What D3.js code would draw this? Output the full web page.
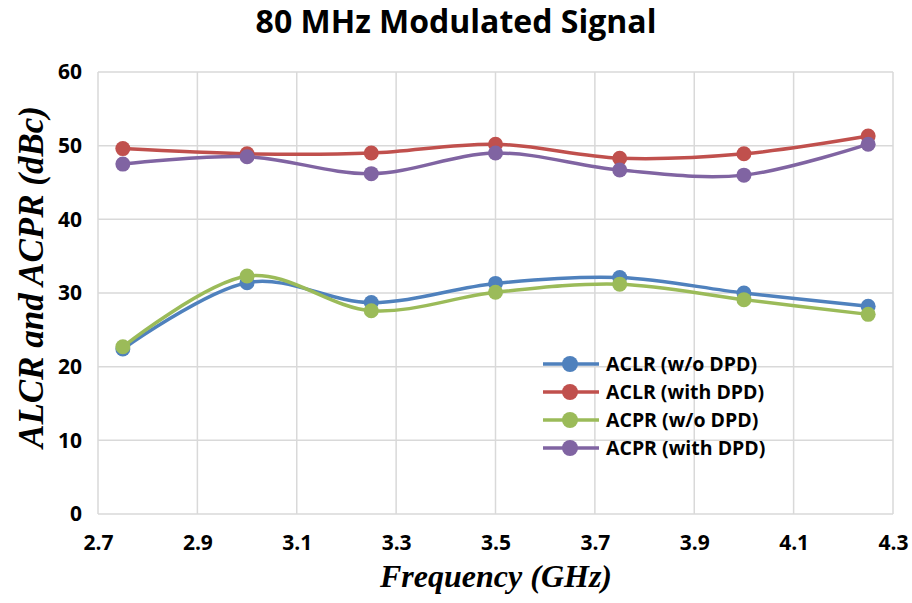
<!DOCTYPE html>
<html>
<head>
<meta charset="utf-8">
<script src="https://cdn.jsdelivr.net/npm/d3@7"></script>
<style>
  body { margin: 0; background: #fff; }
  svg { display: block; }
</style>
</head>
<body>
<svg id="chart" width="912" height="603"></svg>
<script>
(function() {

    // frequency points (GHz)
    var freqs = [2.75, 3.0, 3.25, 3.5, 3.75, 4.0, 4.25];
    var aclrNoDpd = [22.4, 31.4, 28.7, 31.3, 32.1, 30.0, 28.2];
    var aclrDpd = [49.6, 48.9, 49.0, 50.2, 48.3, 48.9, 51.3];
    var acprNoDpd = [22.7, 32.3, 27.6, 30.1, 31.2, 29.1, 27.1];
    var acprDpd = [47.5, 48.5, 46.2, 49.0, 46.7, 46.0, 50.2];
    var seriesNames = ["ACLR (w/o DPD)", "ACLR (with DPD)", "ACPR (w/o DPD)", "ACPR (with DPD)"];
    var xTicks = [2.7, 2.9, 3.1, 3.3, 3.5, 3.7, 3.9, 4.1, 4.3];
    var yTicks = [0, 10, 20, 30, 40, 50, 60];

    var colors = ["#4f81bd", "#c0504d", "#9bbb59", "#8064a2"];
    var allValues = [aclrNoDpd, aclrDpd, acprNoDpd, acprDpd];

    var svg = d3.select("#chart"),
        left = 98, right = 893, top = 72, bottom = 514;

    var x = d3.scaleLinear().domain([2.7, 4.3]).range([left, right]),
        y = d3.scaleLinear().domain([0, 60]).range([bottom, top]);

    // title
    svg.append("text")
        .attr("x", 456).attr("y", 33)
        .attr("text-anchor", "middle")
        .style("font", "bold 32px 'Open Sans', sans-serif")
        .text("80 MHz Modulated Signal");

    // grid
    var grid = svg.append("g");
    grid.selectAll(".hg").data(yTicks).enter().append("line")
        .attr("x1", left).attr("x2", right)
        .attr("y1", function(d) { return y(d); }).attr("y2", function(d) { return y(d); })
        .attr("stroke", "#d9d9d9").attr("stroke-width", 1.5);
    grid.selectAll(".vg").data(xTicks).enter().append("line")
        .attr("y1", top).attr("y2", bottom)
        .attr("x1", function(d) { return x(d); }).attr("x2", function(d) { return x(d); })
        .attr("stroke", "#d9d9d9").attr("stroke-width", 1.5);

    // axes (labels only, lines come from grid)
    var yAxis = svg.append("g")
        .attr("transform", "translate(" + left + ",0)")
        .call(d3.axisLeft(y).tickValues(yTicks).tickSize(0).tickPadding(16));
    var xAxis = svg.append("g")
        .attr("transform", "translate(0," + bottom + ")")
        .call(d3.axisBottom(x).tickValues(xTicks).tickFormat(d3.format(".1f")).tickSize(0).tickPadding(21));
    [xAxis, yAxis].forEach(function(a) {
        a.select(".domain").remove();
        a.selectAll("text")
            .attr("fill", "#000")
            .style("font", "bold 21px 'Open Sans', sans-serif");
    });

    // axis titles
    svg.append("text")
        .attr("transform", "translate(43,277) rotate(-90)")
        .attr("text-anchor", "middle")
        .style("font", "italic bold 35px 'Liberation Serif', serif")
        .text("ALCR and ACPR (dBc)");
    svg.append("text")
        .attr("x", 496).attr("y", 587)
        .attr("text-anchor", "middle")
        .style("font", "italic bold 32px 'Liberation Serif', serif")
        .text("Frequency (GHz)");

    var line = d3.line()
        .x(function(d) { return x(d[0]); })
        .y(function(d) { return y(d[1]); })
        .curve(d3.curveCardinal.tension(0));

    allValues.forEach(function(vals, i) {
        var pts = freqs.map(function(f, j) { return [f, vals[j]]; });
        var g = svg.append("g");
        g.append("path")
            .attr("d", line(pts))
            .attr("fill", "none")
            .attr("stroke", colors[i])
            .attr("stroke-width", 3.5);
        g.selectAll("circle").data(pts).enter().append("circle")
            .attr("cx", function(d) { return x(d[0]); })
            .attr("cy", function(d) { return y(d[1]); })
            .attr("r", 7.5)
            .attr("fill", colors[i]);
    });

    // legend
    var legend = svg.append("g").attr("transform", "translate(543,364)");
    seriesNames.forEach(function(name, i) {
        var row = legend.append("g").attr("transform", "translate(0," + (i * 28) + ")");
        row.append("line").attr("x1", 0).attr("x2", 56)
            .attr("stroke", colors[i]).attr("stroke-width", 3.5);
        row.append("circle").attr("cx", 27).attr("r", 8).attr("fill", colors[i]);
        row.append("text").attr("x", 63).attr("dy", "0.35em")
            .style("font", "bold 19.5px 'Open Sans', sans-serif")
            .text(name);
    });
})();
</script>
</body>
</html>
